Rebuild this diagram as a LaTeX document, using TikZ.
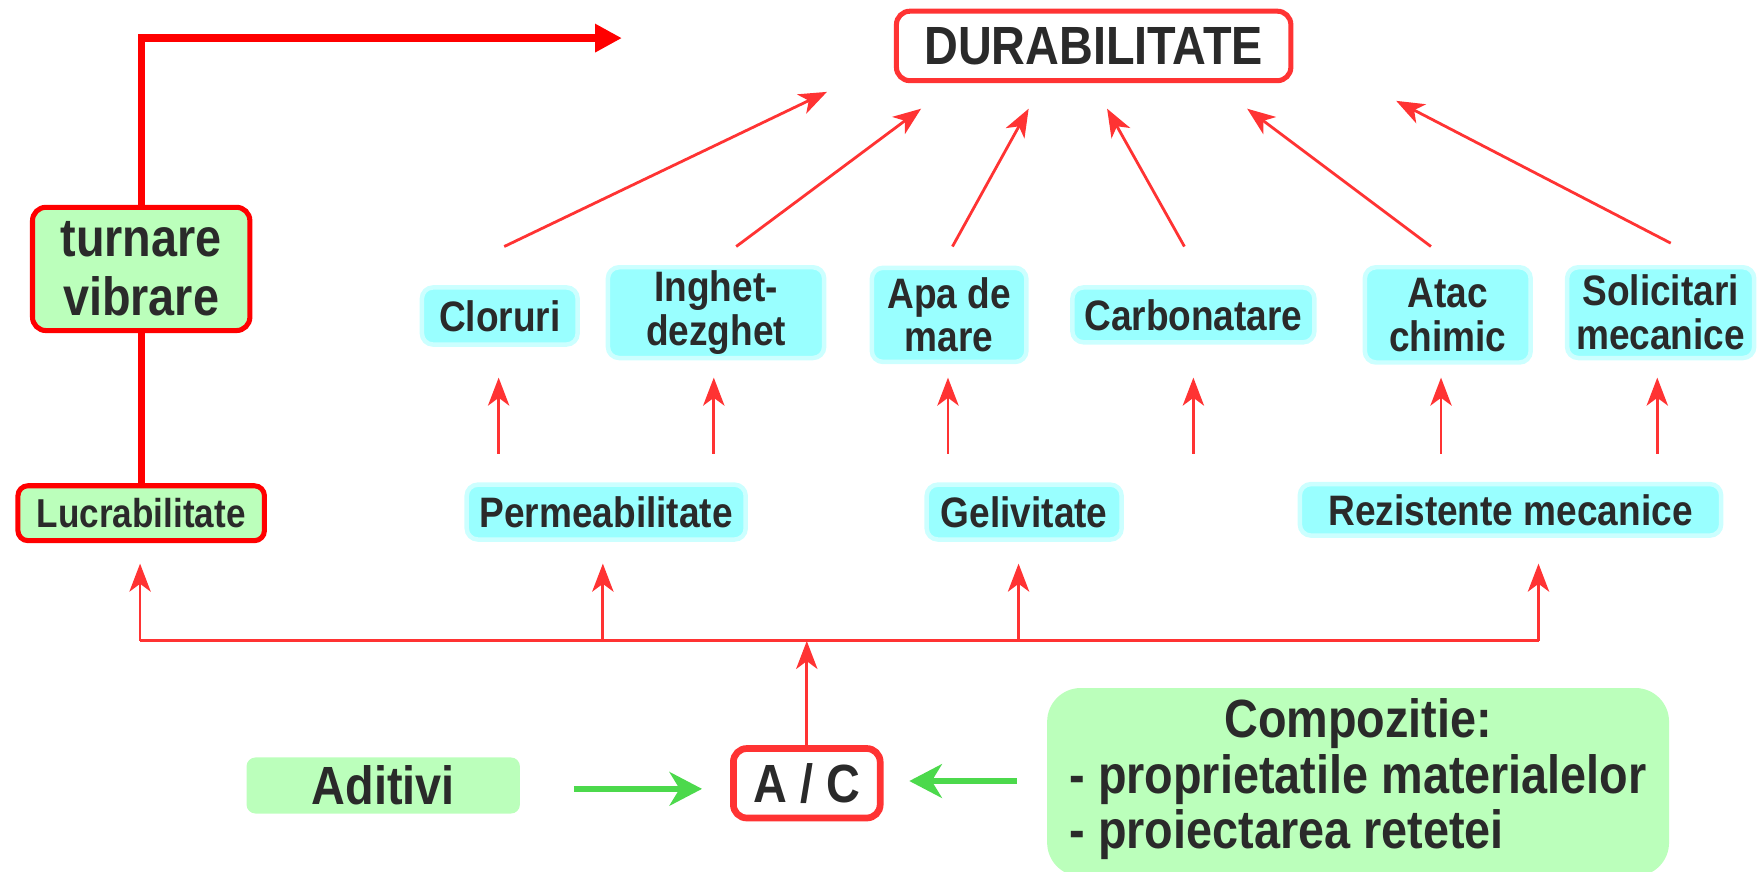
\documentclass[tikz,border=0pt]{standalone}
\usepackage{fontspec}
\setmainfont{Liberation Sans}[FakeStretch=0.87]
\usetikzlibrary{arrows.meta}
\definecolor{redT}{HTML}{FF0000}
\definecolor{redA}{HTML}{FF3333}
\definecolor{cyanF}{HTML}{99FFFF}
\definecolor{cyanB}{HTML}{CCFFFF}
\definecolor{greenF}{HTML}{BBFFBB}
\definecolor{greenA}{HTML}{4CD94C}
\definecolor{txt}{HTML}{2A2A2A}
\begin{document}
\begin{tikzpicture}[x=1pt,y=-1pt,
  base/.style={inner sep=0pt, align=center, text=txt},
  cyanbox/.style={base, draw=cyanB, line width=4pt, fill=cyanF, rounded corners=10pt,
    font=\bfseries\fontsize{38}{39}\selectfont},
  redbox/.style={base, draw=redT, line width=4.5pt, rounded corners=12pt},
  greenbox/.style={base, fill=greenF, rounded corners=8pt},
  thinarrow/.style={draw=redA, line width=2.5pt, -{Stealth[length=25pt,width=19pt,inset=7pt]}},
  busline/.style={draw=redA, line width=2.6pt},
  thickline/.style={draw=redT, line width=6.5pt},
  greenarrow/.style={draw=greenA, line width=5.5pt, -{Stealth[length=29pt,width=30pt,inset=9pt]}}
]
\useasboundingbox (0,0) rectangle (1568,778);

% top node
\node[redbox, draw=redA, fill=white, minimum width=352pt, minimum height=62pt,
  font=\bfseries\fontsize{48}{52}\selectfont] (dur) at (976,41) {DURABILITATE};

% left column
\node[redbox, fill=greenF, minimum width=194pt, minimum height=110pt,
  font=\bfseries\fontsize{48}{53}\selectfont] (turn) at (126,240) {turnare\\vibrare};
\node[redbox, fill=greenF, minimum width=220pt, minimum height=49pt, rounded corners=9pt,
  font=\bfseries\fontsize{36}{40}\selectfont] (lucr) at (126,458) {Lucrabilitate};

% top cyan row
\node[cyanbox, minimum width=139pt, minimum height=51pt] (clor) at (446,282) {Cloruri};
\node[cyanbox, minimum width=193pt, minimum height=81pt] (ingh) at (639,279) {Inghet-\\dezghet};
\node[cyanbox, minimum width=138pt, minimum height=84pt] (apa) at (847,281) {Apa de\\mare};
\node[cyanbox, minimum width=216pt, minimum height=49pt] (carb) at (1065,281) {Carbonatare};
\node[cyanbox, minimum width=148pt, minimum height=85pt] (atac) at (1292,281) {Atac\\chimic};
\node[cyanbox, minimum width=167pt, minimum height=81pt] (sol) at (1482,279) {Solicitari\\mecanice};

% middle cyan row
\node[cyanbox, minimum width=249pt, minimum height=49pt] (perm) at (541,457) {Permeabilitate};
\node[cyanbox, minimum width=174pt, minimum height=49pt] (gel) at (914,457) {Gelivitate};
\node[cyanbox, minimum width=376pt, minimum height=46pt] (rez) at (1348,455) {Rezistente mecanice};

% bottom row
\node[redbox, draw=redA, line width=6pt, fill=white, minimum width=131pt, minimum height=62pt,
  font=\bfseries\fontsize{48}{52}\selectfont] (ac) at (720,699) {A / C};
\node[greenbox, minimum width=244pt, minimum height=50pt,
  font=\bfseries\fontsize{48}{52}\selectfont] (adit) at (342,701) {Aditivi};
\node[greenbox, rounded corners=30pt, minimum width=555pt, minimum height=168pt,
  font=\bfseries\fontsize{48}{49}\selectfont] (comp) at (1212,698)
  {\begin{tabular}{@{}l@{}}\multicolumn{1}{@{}c@{}}{Compozitie:}\\- proprietatile materialelor\\- proiectarea retetei\end{tabular}};

% thick red connector from turnare
\coordinate (topend) at (555,34);
\draw[thickline, -{Triangle[length=24pt,width=24pt]}] (turn.north) |- (topend);
\draw[thickline] (turn.south) -- (turn.south |- lucr.north);

% diagonal arrows to DURABILITATE
\coordinate (d1s) at (450,220); \coordinate (d1e) at (738,82);
\coordinate (d2s) at (657,220); \coordinate (d2e) at (822,97);
\coordinate (d3s) at (850,220); \coordinate (d3e) at (918,97);
\coordinate (d4s) at (1057,220); \coordinate (d4e) at (988,97);
\coordinate (d5s) at (1277,220); \coordinate (d5e) at (1113,97);
\coordinate (d6s) at (1491,217); \coordinate (d6e) at (1246,90);
\foreach \i in {1,...,6} { \draw[thinarrow] (d\i s) -- (d\i e); }

% short vertical arrows between rows
\foreach \n/\x in {a/445, b/637, c/846, d/1065, e/1286, f/1479} {
  \coordinate (v\n s) at (\x,405);
  \coordinate (v\n e) at (\x,337);
  \draw[thinarrow] (v\n s) -- (v\n e);
}

% bus
\coordinate (tapL) at (125,572);
\coordinate (tapP) at (538,572);
\coordinate (tapG) at (909,572);
\coordinate (tapR) at (1373,572);
\draw[busline] (tapL) -- (tapR);
\foreach \t in {tapL,tapP,tapG,tapR} { \draw[thinarrow] (\t) -- ++(0,-69); }
\draw[thinarrow] (ac.north) -- (ac.north |- tapL);

% green arrows
\draw[greenarrow] ([xshift=48pt,yshift=-3pt]adit.east) -- ([xshift=-25pt,yshift=-5pt]ac.west);
\draw[greenarrow] ([xshift=-27pt,yshift=1pt]comp.west) -- ([xshift=23pt,yshift=2pt]ac.east);
\end{tikzpicture}
\end{document}
